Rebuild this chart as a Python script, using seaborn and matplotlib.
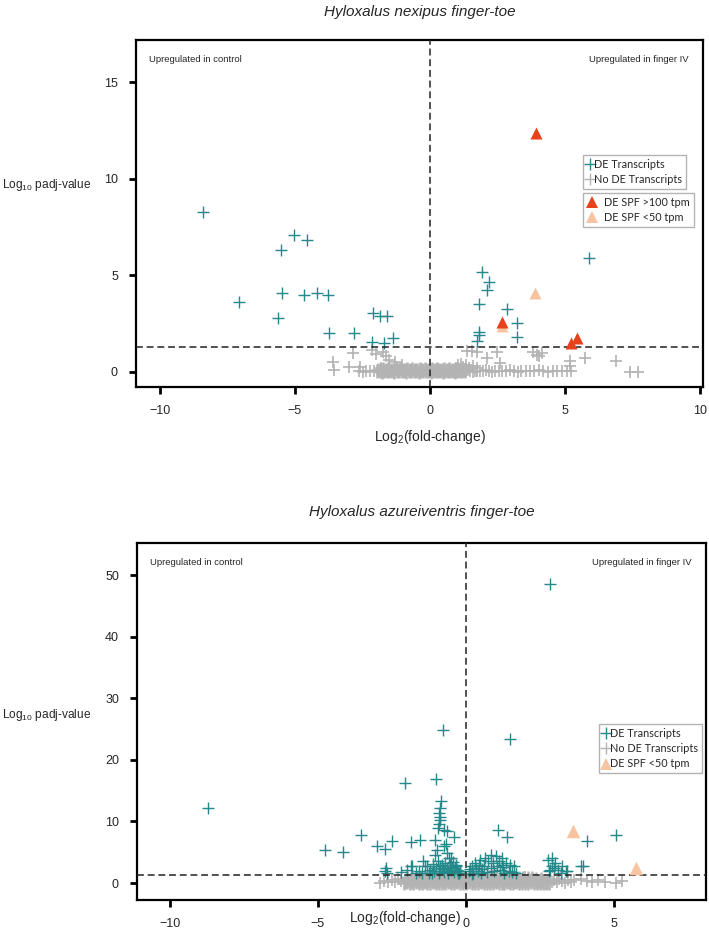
import matplotlib
matplotlib.use('Agg')
import matplotlib.pyplot as plt
from matplotlib import font_manager
from matplotlib.lines import Line2D
import seaborn as sns

# ---- top panel: Hyloxalus nexipus ----
top_de_x = [-8.38, -7.06, -5.63, -5.51, -5.48, -5.03, -4.65, -4.53, -4.19, -3.76, -3.74, -2.79,
            -2.12, -1.85, -1.60, -2.14, -1.70, -1.38,
            1.93, 2.19, 2.12, 1.80, 2.84, 3.21, 3.21, 1.80, 1.75, 1.82, 5.88]
top_de_y = [8.27, 3.60, 2.82, 6.33, 4.08, 7.08, 4.00, 6.85, 4.08, 4.00, 2.04, 2.04,
            3.04, 2.90, 2.90, 1.57, 1.48, 1.78,
            5.18, 4.66, 4.23, 3.52, 3.28, 2.54, 1.80, 2.08, 1.59, 1.94, 5.90]

# dense band of non-DE transcripts near zero (two staggered rows)
top_band_x = [-1.95, -1.86, -1.77, -1.68, -1.59, -1.50, -1.41, -1.32, -1.23, -1.14, -1.05, -0.96,
              -0.87, -0.78, -0.69, -0.60, -0.51, -0.42, -0.33, -0.24, -0.15, -0.06, 0.03, 0.12,
              0.21, 0.30, 0.39, 0.48, 0.57, 0.66, 0.75, 0.84, 0.93, 1.02, 1.11, 1.20, 1.29,
              -1.91, -1.82, -1.72, -1.64, -1.55, -1.45, -1.37, -1.27, -1.19, -1.09, -1.01, -0.91,
              -0.83, -0.73, -0.65, -0.55, -0.47, -0.37, -0.29, -0.19, -0.11, -0.01, 0.08, 0.17,
              0.26, 0.35, 0.44, 0.53, 0.62, 0.71, 0.80, 0.89, 0.98, 1.07, 1.16, 1.25]
top_band_y = [0.03, 0.05, 0.02, 0.04, 0.06, 0.03, 0.05, 0.02, 0.04, 0.06, 0.03, 0.05,
              0.02, 0.04, 0.06, 0.03, 0.05, 0.02, 0.04, 0.06, 0.03, 0.05, 0.02, 0.04,
              0.06, 0.03, 0.05, 0.02, 0.04, 0.06, 0.03, 0.05, 0.02, 0.04, 0.06, 0.03, 0.05,
              0.12, 0.10, 0.13, 0.11, 0.14, 0.10, 0.12, 0.13, 0.11, 0.14, 0.10, 0.12,
              0.13, 0.11, 0.14, 0.10, 0.12, 0.13, 0.11, 0.14, 0.10, 0.12, 0.13, 0.11,
              0.14, 0.10, 0.12, 0.13, 0.11, 0.14, 0.10, 0.12, 0.13, 0.11, 0.14, 0.10]

top_ns_x = [-2.62, -2.48, -2.35, -2.21, -2.08, 1.34, 1.41, 1.50, 1.58, 1.66, 1.74, 1.86, 1.95,
            2.07, 2.18, 2.31, 2.42, 2.56, 2.68, 2.83, 2.95, 3.10, 3.24, 3.38, 3.55, 3.70, 3.86,
            4.02, 4.20, 4.38, 4.55, 4.71, 4.90, 5.08, 5.22,
            0.95, 1.05, 1.15, 1.22, 1.32, 1.45, 1.60, 1.75, -1.05, -1.22, -1.50, -1.80,
            -3.58, -3.55, -3.00, -2.83, -2.57, -2.14, -2.00, -1.75, -1.62, -1.50, -1.30,
            1.36, 1.55, 1.73, 2.10, 2.47, 2.59, 3.81, 3.95, 4.05, 4.13, 5.18, 5.18, 5.73,
            6.90, 7.39, 7.70]
top_ns_y = [0.05, 0.02, 0.07, 0.04, 0.06, 0.03, 0.08, 0.05, 0.02, 0.07, 0.04, 0.06, 0.03,
            0.08, 0.05, 0.02, 0.07, 0.04, 0.06, 0.03, 0.08, 0.05, 0.02, 0.07, 0.04, 0.06, 0.03,
            0.08, 0.05, 0.02, 0.07, 0.04, 0.06, 0.03, 0.05,
            0.20, 0.35, 0.42, 0.28, 0.38, 0.22, 0.30, 0.18, 0.35, 0.20, 0.25, 0.22,
            0.50, 0.08, 0.25, 1.00, 0.28, 1.12, 0.95, 1.05, 0.85, 0.60, 0.50,
            1.08, 1.10, 1.05, 0.73, 1.05, 0.47, 1.05, 0.90, 0.85, 1.00, 0.56, 0.30, 0.73,
            0.56, 0.02, 0.02]

top_hi_x = [3.92, 2.65, 5.20, 5.45]      # DE SPF >100 tpm
top_hi_y = [12.40, 2.58, 1.50, 1.77]
top_lo_x = [3.88, 2.67]                  # DE SPF <50 tpm
top_lo_y = [4.10, 2.37]

# ---- bottom panel: Hyloxalus azureiventris ----
bot_de_x = [-8.72, -4.75, -4.14, -3.54, -3.00, -2.72, -2.50, -2.69, -2.66, -2.04, -1.85, -1.56,
            -1.85, -1.37, -1.00, -0.77, 1.48, 2.85,
            -0.84, -0.88, -0.90, -0.88, -0.86, -0.90, -0.95, -0.75, -1.03, -0.97, -0.64, -0.64,
            -0.41, -0.75, -0.58, -0.52,
            -1.31, -1.20, -1.10, -1.00, -0.95, -0.90, -0.82, -0.75, -0.70, -0.65, -0.60, -0.55,
            -0.50, -0.45, -0.40, -0.35, -0.30, -0.25, -0.20, -1.15, -0.86, -1.82, -2.72, -1.60,
            -1.45, -1.05, -0.68, -0.33, -1.25, -1.08, -0.92, -0.78, -0.62, -0.48, -0.38, -0.28,
            -2.20, -2.00, -1.70, -1.50,
            0.10, 0.21, 0.32, 0.49, 0.60, 0.83, 1.00, 1.04, 1.22, 1.50, 1.62, 0.40, 0.70, 0.90,
            1.15, 1.30, 1.45, 1.70, 0.25, 0.55, 0.75, 1.10, 1.35, 1.07, 1.39, 0.20, 0.65, 1.25,
            0.35, 0.50, 0.85, 0.95, 1.20, 1.55, 0.15, 0.45,
            2.80, 2.77, 2.91, 2.91, 2.96, 3.25, 3.36, 3.42, 3.87, 3.95, 4.10, 5.05, 3.00, 3.10,
            2.85, 3.20]
bot_de_y = [12.16, 5.30, 4.97, 7.84, 6.08, 5.50, 6.75, 2.43, 1.70, 16.30, 6.60, 7.00,
            2.80, 2.80, 16.85, 24.85, 23.40, 48.60,
            13.30, 12.15, 11.30, 10.80, 10.30, 9.60, 8.90, 8.60, 7.00, 5.40, 4.86, 8.37,
            7.45, 5.94, 4.05, 4.05,
            2.70, 2.20, 3.10, 2.50, 3.60, 2.00, 2.90, 1.80, 3.30, 2.40, 1.70, 2.90,
            2.10, 3.40, 1.80, 2.70, 2.20, 1.60, 2.00, 1.70, 2.70, 2.70, 1.90, 2.00,
            3.50, 4.60, 6.40, 3.00, 1.60, 1.90, 1.60, 2.30, 2.00, 2.60, 2.40, 1.70,
            1.80, 2.10, 1.70, 1.60,
            1.90, 2.70, 3.24, 3.78, 2.70, 4.59, 4.32, 2.70, 4.05, 2.97, 2.70, 2.00, 1.80, 3.20,
            2.20, 1.70, 2.00, 1.60, 1.60, 2.30, 3.50, 3.60, 3.30, 8.64, 7.45, 1.40, 4.00, 2.60,
            2.40, 1.60, 2.50, 1.90, 3.00, 1.80, 2.30, 2.90,
            1.90, 3.78, 4.05, 2.70, 2.43, 2.70, 1.90, 1.90, 2.70, 2.70, 6.75, 7.83, 3.20, 2.20,
            2.20, 1.70]

# dense band of non-DE transcripts (three staggered rows)
bot_band_x = [-2.10, -2.00, -1.90, -1.80, -1.70, -1.60, -1.50, -1.40, -1.30, -1.20, -1.10, -1.00,
              -0.90, -0.80, -0.70, -0.60, -0.50, -0.40, -0.30, -0.20, -0.10, 0.00, 0.10, 0.20,
              0.30, 0.40, 0.50, 0.60, 0.70, 0.80, 0.90, 1.00, 1.10, 1.20, 1.30, 1.40, 1.50, 1.60,
              1.70, 1.80, 1.90, 2.00, 2.10, 2.20, 2.30, 2.40, 2.50, 2.60, 2.70, 2.80,
              -2.05, -1.95, -1.85, -1.75, -1.65, -1.55, -1.45, -1.35, -1.25, -1.15, -1.05, -0.95,
              -0.85, -0.75, -0.65, -0.55, -0.45, -0.35, -0.25, -0.15, -0.05, 0.05, 0.15, 0.25,
              0.35, 0.45, 0.55, 0.65, 0.75, 0.85, 0.95, 1.05, 1.15, 1.25, 1.35, 1.45, 1.55, 1.65,
              1.75, 1.85, 1.95, 2.05, 2.15, 2.25, 2.35, 2.45, 2.55, 2.65, 2.75,
              -1.98, -1.83, -1.68, -1.52, -1.37, -1.22, -1.07, -0.92, -0.77, -0.62, -0.47, -0.32,
              -0.17, -0.02, 0.13, 0.28, 0.43, 0.58, 0.73, 0.88, 1.03, 1.18, 1.33, 1.48, 1.63,
              1.78, 1.93, 2.08, 2.23, 2.38, 2.53]
bot_band_y = [0.05, 0.10, 0.00, 0.08, 0.12, 0.03, 0.07, 0.10, 0.02, 0.06, 0.11, 0.04,
              0.09, 0.01, 0.07, 0.12, 0.05, 0.00, 0.10, 0.06, 0.03, 0.08, 0.11, 0.02,
              0.07, 0.04, 0.10, 0.00, 0.06, 0.09, 0.03, 0.12, 0.05, 0.08, 0.01, 0.10, 0.04, 0.07,
              0.11, 0.02, 0.06, 0.09, 0.03, 0.10, 0.05, 0.00, 0.08, 0.04, 0.07, 0.02,
              0.40, 0.45, 0.35, 0.50, 0.42, 0.38, 0.47, 0.33, 0.44, 0.49, 0.36, 0.41,
              0.46, 0.34, 0.48, 0.39, 0.43, 0.37, 0.50, 0.35, 0.45, 0.40, 0.47, 0.33,
              0.42, 0.48, 0.36, 0.44, 0.39, 0.46, 0.34, 0.41, 0.49, 0.37, 0.43, 0.38, 0.45, 0.35,
              0.47, 0.40, 0.44, 0.36, 0.42, 0.48, 0.33, 0.39, 0.30, 0.25, 0.20,
              0.80, 0.85, 0.75, 0.90, 0.82, 0.78, 0.88, 0.73, 0.84, 0.92, 0.76, 0.81,
              0.87, 0.74, 0.89, 0.79, 0.83, 0.77, 0.91, 0.75, 0.86, 0.80, 0.88, 0.73,
              0.84, 0.78, 0.85, 0.76, 0.82, 0.70, 0.65]

bot_ns_x = [-2.89, -2.75, -2.62, -2.50, -2.38, -2.30, -2.20, 2.90, 2.98, 3.06, 3.15, 3.25,
            3.34, 3.44, 3.55, 3.65, 3.87, 4.10, 4.27, 4.47, 4.70, 5.05, 5.25,
            -1.20, -0.80, -0.30, 0.20, 0.90, 1.40, 2.00]
bot_ns_y = [0.00, 0.30, 0.10, 0.50, 0.20, 0.70, 0.40, 0.10, 0.50, 0.20, 0.60, 0.30,
            0.05, 0.45, 0.15, 0.55, 0.60, 0.35, 0.10, 0.50, 0.25, 0.00, 0.40,
            1.10, 1.20, 1.05, 1.15, 1.20, 1.10, 1.05]

bot_lo_x = [3.62, 5.73]
bot_lo_y = [8.37, 2.43]

teal = '#23898a'
grey = '#b3b3b3'
red = '#e8421c'
peach = '#f6c4a1'

names = {f.name for f in font_manager.fontManager.ttflist}
narrow = 'Liberation Sans Narrow' if 'Liberation Sans Narrow' in names else 'Liberation Sans'

sns.set_style('white')
plt.rcParams['font.family'] = [narrow, 'DejaVu Sans']
plt.rcParams['mathtext.fontset'] = 'custom'
plt.rcParams['mathtext.rm'] = narrow
plt.rcParams['mathtext.it'] = narrow + ':italic'

W, H = 709, 931
fig = plt.figure(figsize=(W / 100, H / 100), dpi=100)
ax1 = fig.add_axes([136 / W, 1 - 387 / H, (703 - 136) / W, (387 - 40) / H])
ax2 = fig.add_axes([137 / W, 1 - 900 / H, (706 - 137) / W, (900 - 543) / H])


def draw(ax, de_x, de_y, band_x, band_y, ns_x, ns_y):
    # the crowded band is drawn with heavier strokes so it reads as a solid grey mass
    sns.scatterplot(x=band_x, y=band_y, marker='+', s=90, color=grey, linewidth=1.8,
                    ax=ax, zorder=2, legend=False)
    sns.scatterplot(x=ns_x, y=ns_y, marker='+', s=85, color=grey, linewidth=1.2,
                    ax=ax, zorder=2, legend=False)
    sns.scatterplot(x=de_x, y=de_y, marker='+', s=85, color=teal, linewidth=1.0,
                    ax=ax, zorder=3, legend=False)
    ax.axvline(0, color='#222222', lw=1.1, ls=(0, (4.5, 2.5)), zorder=4)
    ax.axhline(1.3, color='#222222', lw=1.1, ls=(0, (4.5, 2.5)), zorder=4)
    for s in ax.spines.values():
        s.set_visible(True)
        s.set_color('black')
        s.set_linewidth(1.6)
    ax.tick_params(axis='both', which='both', direction='out', length=5, width=2,
                   color='black', labelsize=9, bottom=True, left=True)
    ax.tick_params(axis='x', pad=8)
    ax.tick_params(axis='y', pad=8)
    ax.text(0.023, 0.945, 'Upregulated in control', transform=ax.transAxes,
            fontsize=6.8, ha='left', va='center')
    ax.text(0.975, 0.945, 'Upregulated in finger IV', transform=ax.transAxes,
            fontsize=6.8, ha='right', va='center')


# top panel
draw(ax1, top_de_x, top_de_y, top_band_x, top_band_y, top_ns_x, top_ns_y)
sns.scatterplot(x=top_lo_x, y=top_lo_y, marker='^', s=75, color=peach, linewidth=0,
                ax=ax1, zorder=5, legend=False)
sns.scatterplot(x=top_hi_x, y=top_hi_y, marker='^', s=75, color=red, linewidth=0,
                ax=ax1, zorder=6, legend=False)
ax1.set_xlim(-10.87, 10.1)
ax1.set_ylim(-0.78, 17.2)
ax1.set_xticks([-10, -5, 0, 5, 10])
ax1.set_yticks([0, 5, 10, 15])

# bottom panel
draw(ax2, bot_de_x, bot_de_y, bot_band_x, bot_band_y, bot_ns_x, bot_ns_y)
sns.scatterplot(x=bot_lo_x, y=bot_lo_y, marker='^', s=95, color=peach, linewidth=0,
                ax=ax2, zorder=5, legend=False)
ax2.set_xlim(-11.1, 8.1)
ax2.set_ylim(-2.75, 55.2)
ax2.set_xticks([-10, -5, 0, 5])
ax2.set_yticks([0, 10, 20, 30, 40, 50])

# titles and axis labels
fig.text(420 / W, 1 - 12 / H, 'Hyloxalus nexipus finger-toe', style='italic',
         fontsize=11, ha='center', va='center')
fig.text(422 / W, 1 - 512 / H, 'Hyloxalus azureiventris finger-toe', style='italic',
         fontsize=11, ha='center', va='center')
fig.text(2 / W, 1 - 185 / H, r'Log$_{10}$ padj-value', fontsize=8.6, ha='left', va='center')
fig.text(2 / W, 1 - 715 / H, r'Log$_{10}$ padj-value', fontsize=8.6, ha='left', va='center')
fig.text(430 / W, 1 - 437 / H, r'Log$_{2}$(fold-change)', fontsize=10, ha='center', va='center')
fig.text(405 / W, 1 - 918 / H, r'Log$_{2}$(fold-change)', fontsize=10, ha='center', va='center')

# legends
leg_font = {'family': 'Lato', 'size': 7.8}
plus_de = Line2D([], [], marker='+', ls='none', color=teal, markersize=9, mew=1.0)
plus_ns = Line2D([], [], marker='+', ls='none', color=grey, markersize=9, mew=1.0)
tri_hi = Line2D([], [], marker='^', ls='none', color=red, markersize=8, mew=0)
tri_lo = Line2D([], [], marker='^', ls='none', color=peach, markersize=8, mew=0)
tri_lo_b = Line2D([], [], marker='^', ls='none', color=peach, markersize=9, mew=0)

common = dict(frameon=True, fancybox=False, borderpad=0.35, labelspacing=0.4,
              handlelength=0.6, handletextpad=0.1, borderaxespad=0, prop=leg_font)
l1 = fig.legend([plus_de, plus_ns], ['DE Transcripts', 'No DE Transcripts'],
                loc='upper left', bbox_to_anchor=(583 / W, 1 - 155 / H), **common)
l2 = fig.legend([tri_hi, tri_lo], ['DE SPF >100 tpm', 'DE SPF <50 tpm'],
                loc='upper left', bbox_to_anchor=(583 / W, 1 - 193 / H),
                **{**common, 'handletextpad': 0.6, 'handlelength': 1.0})
l3 = fig.legend([plus_de, plus_ns, tri_lo_b],
                ['DE Transcripts', 'No DE Transcripts', 'DE SPF <50 tpm'],
                loc='upper left', bbox_to_anchor=(599 / W, 1 - 724 / H), **common)
for lg in (l1, l2, l3):
    fr = lg.get_frame()
    fr.set_edgecolor('#a0a0a0')
    fr.set_linewidth(1.0)

fig.savefig('out.png', dpi=100)
plt.close(fig)
